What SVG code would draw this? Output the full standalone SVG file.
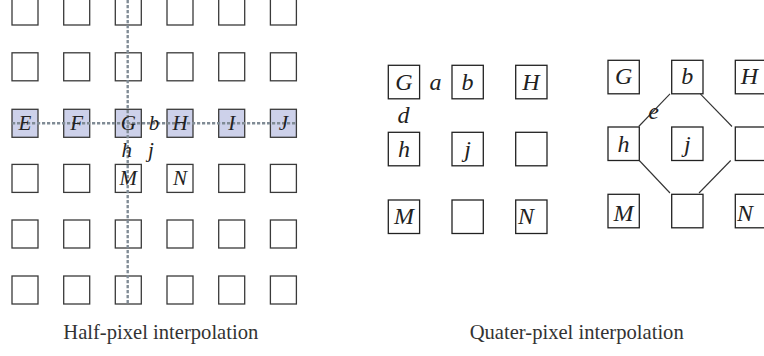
<svg xmlns="http://www.w3.org/2000/svg" width="764" height="356" viewBox="0 0 764 356">
<style>
.b{fill:#fff;stroke:#3a3a3a;stroke-width:1.3}
.s{fill:#cdd1ea;stroke:#3a3a3a;stroke-width:1.3}
.k{fill:#fff;stroke:#222;stroke-width:1.3}
.d{fill:none;stroke:#808b95;stroke-width:2.4;stroke-dasharray:3.2 1.8}
.c{fill:none;stroke:#333;stroke-width:1.1}
.t{font-family:"Liberation Serif","Times New Roman",serif;font-style:italic;fill:#222;text-anchor:middle}
.ts{font-size:21px}
.tl{font-size:24px}
.cap{font-family:"Liberation Serif","Times New Roman",serif;font-size:20.6px;fill:#333;text-anchor:middle}
</style>
<rect width="764" height="356" fill="#fff"/>
<g id="half-grid">
<g id="r1">
<rect class="b" x="12" y="-3" width="26" height="28"/><rect class="b" x="63.7" y="-3" width="26" height="28"/><rect class="b" x="115.3" y="-3" width="26" height="28"/><rect class="b" x="167" y="-3" width="26" height="28"/><rect class="b" x="218.7" y="-3" width="26" height="28"/><rect class="b" x="270.4" y="-3" width="26" height="28"/>
</g>
<g id="r2">
<rect class="b" x="12" y="52.8" width="26" height="28"/><rect class="b" x="63.7" y="52.8" width="26" height="28"/><rect class="b" x="115.3" y="52.8" width="26" height="28"/><rect class="b" x="167" y="52.8" width="26" height="28"/><rect class="b" x="218.7" y="52.8" width="26" height="28"/><rect class="b" x="270.4" y="52.8" width="26" height="28"/>
</g>
<g id="hE"><rect class="s" x="12" y="109.3" width="26" height="28"/></g>
<g id="hF"><rect class="s" x="63.7" y="109.3" width="26" height="28"/></g>
<g id="hG"><rect class="s" x="115.3" y="109.3" width="26" height="28"/></g>
<g id="hH"><rect class="s" x="167" y="109.3" width="26" height="28"/></g>
<g id="hI"><rect class="s" x="218.7" y="109.3" width="26" height="28"/></g>
<g id="hJ"><rect class="s" x="270.4" y="109.3" width="26" height="28"/></g>
<g id="r4">
<rect class="b" x="12" y="164.4" width="26" height="28"/><rect class="b" x="63.7" y="164.4" width="26" height="28"/>
<g id="hM"><rect class="b" x="115.3" y="164.4" width="26" height="28"/></g>
<g id="hN"><rect class="b" x="167" y="164.4" width="26" height="28"/></g>
<rect class="b" x="218.7" y="164.4" width="26" height="28"/><rect class="b" x="270.4" y="164.4" width="26" height="28"/>
</g>
<g id="r5">
<rect class="b" x="12" y="220" width="26" height="28"/><rect class="b" x="63.7" y="220" width="26" height="28"/><rect class="b" x="115.3" y="220" width="26" height="28"/><rect class="b" x="167" y="220" width="26" height="28"/><rect class="b" x="218.7" y="220" width="26" height="28"/><rect class="b" x="270.4" y="220" width="26" height="28"/>
</g>
<g id="r6">
<rect class="b" x="12" y="276" width="26" height="28"/><rect class="b" x="63.7" y="276" width="26" height="28"/><rect class="b" x="115.3" y="276" width="26" height="28"/><rect class="b" x="167" y="276" width="26" height="28"/><rect class="b" x="218.7" y="276" width="26" height="28"/><rect class="b" x="270.4" y="276" width="26" height="28"/>
</g>
</g>
<g id="quarter-grid-1">
<g id="qG"><rect class="k" x="388.3" y="65.3" width="31.3" height="33.5"/><text class="t tl" x="404" y="90">G</text></g>
<g id="qb"><rect class="k" x="452" y="65.3" width="31.3" height="33.5"/><text class="t tl" x="467.6" y="90">b</text></g>
<g id="qH"><rect class="k" x="515.7" y="65.3" width="31.3" height="33.5"/><text class="t tl" x="531" y="90">H</text></g>
<g id="qh"><rect class="k" x="388.3" y="132.3" width="31.3" height="33.5"/><text class="t tl" x="404" y="157">h</text></g>
<g id="qj"><rect class="k" x="452" y="132.3" width="31.3" height="33.5"/><text class="t tl" x="467.6" y="157">j</text></g>
<g id="q6"><rect class="k" x="515.7" y="132.3" width="31.3" height="33.5"/></g>
<g id="qM"><rect class="k" x="388.3" y="200" width="31.3" height="33.5"/><text class="t tl" x="404" y="223.5">M</text></g>
<g id="q8"><rect class="k" x="452" y="200" width="31.3" height="33.5"/></g>
<g id="qN"><rect class="k" x="515.7" y="200" width="31.3" height="33.5"/><text class="t tl" x="526" y="223.5">N</text></g>
<text class="t tl" x="435.5" y="90">a</text>
<text class="t tl" x="403.5" y="122.5">d</text>
</g>
<g id="quarter-grid-2">
<g id="pG"><rect class="k" x="608" y="60.3" width="31.3" height="33.5"/><text class="t tl" x="623.6" y="84">G</text></g>
<g id="pb"><rect class="k" x="671.7" y="60.3" width="31.3" height="33.5"/><text class="t tl" x="687.3" y="84">b</text></g>
<g id="pH"><rect class="k" x="735.3" y="60.3" width="31.3" height="33.5"/><text class="t tl" x="749.5" y="84">H</text></g>
<g id="ph"><rect class="k" x="608" y="127" width="31.3" height="33.5"/><text class="t tl" x="623.6" y="151.5">h</text></g>
<g id="pj"><rect class="k" x="671.7" y="127" width="31.3" height="33.5"/><text class="t tl" x="687.3" y="151.5">j</text></g>
<g id="p6"><rect class="k" x="735.3" y="127" width="31.3" height="33.5"/></g>
<g id="pM"><rect class="k" x="608" y="194.3" width="31.3" height="33.5"/><text class="t tl" x="623.6" y="220.5">M</text></g>
<g id="p8"><rect class="k" x="671.7" y="194.3" width="31.3" height="33.5"/></g>
<g id="pN"><rect class="k" x="735.3" y="194.3" width="31.3" height="33.5"/><text class="t tl" x="745" y="220.5">N</text></g>
</g>
<g id="connectors">
<line class="d" x1="127.7" y1="0" x2="127.7" y2="305"/>
<line class="d" x1="12" y1="123.3" x2="296" y2="123.3"/>
<line class="c" x1="670" y1="93.8" x2="638.7" y2="126.5"/>
<line class="c" x1="700.3" y1="93.8" x2="732" y2="126.5"/>
<line class="c" x1="639.3" y1="160.5" x2="670" y2="193"/>
<line class="c" x1="730.7" y1="160.5" x2="699" y2="193"/>
</g>
<g id="half-labels">
<text class="t ts" x="25" y="130">E</text>
<text class="t ts" x="76.7" y="130">F</text>
<text class="t ts" x="128.3" y="130">G</text>
<text class="t ts" x="180" y="130">H</text>
<text class="t ts" x="231.7" y="130">I</text>
<text class="t ts" x="283.4" y="130">J</text>
<text class="t ts" x="128.3" y="185.3">M</text>
<text class="t ts" x="180" y="185.3">N</text>
<text class="t ts" x="154" y="129.5">b</text>
<text class="t ts" x="126.7" y="157">h</text>
<text class="t ts" x="151" y="157">j</text>
<text class="t tl" x="653.7" y="118.5">e</text>
</g>
<text class="cap" x="160.8" y="339">Half-pixel interpolation</text>
<text class="cap" x="576.7" y="338.5">Quater-pixel interpolation</text>
</svg>
